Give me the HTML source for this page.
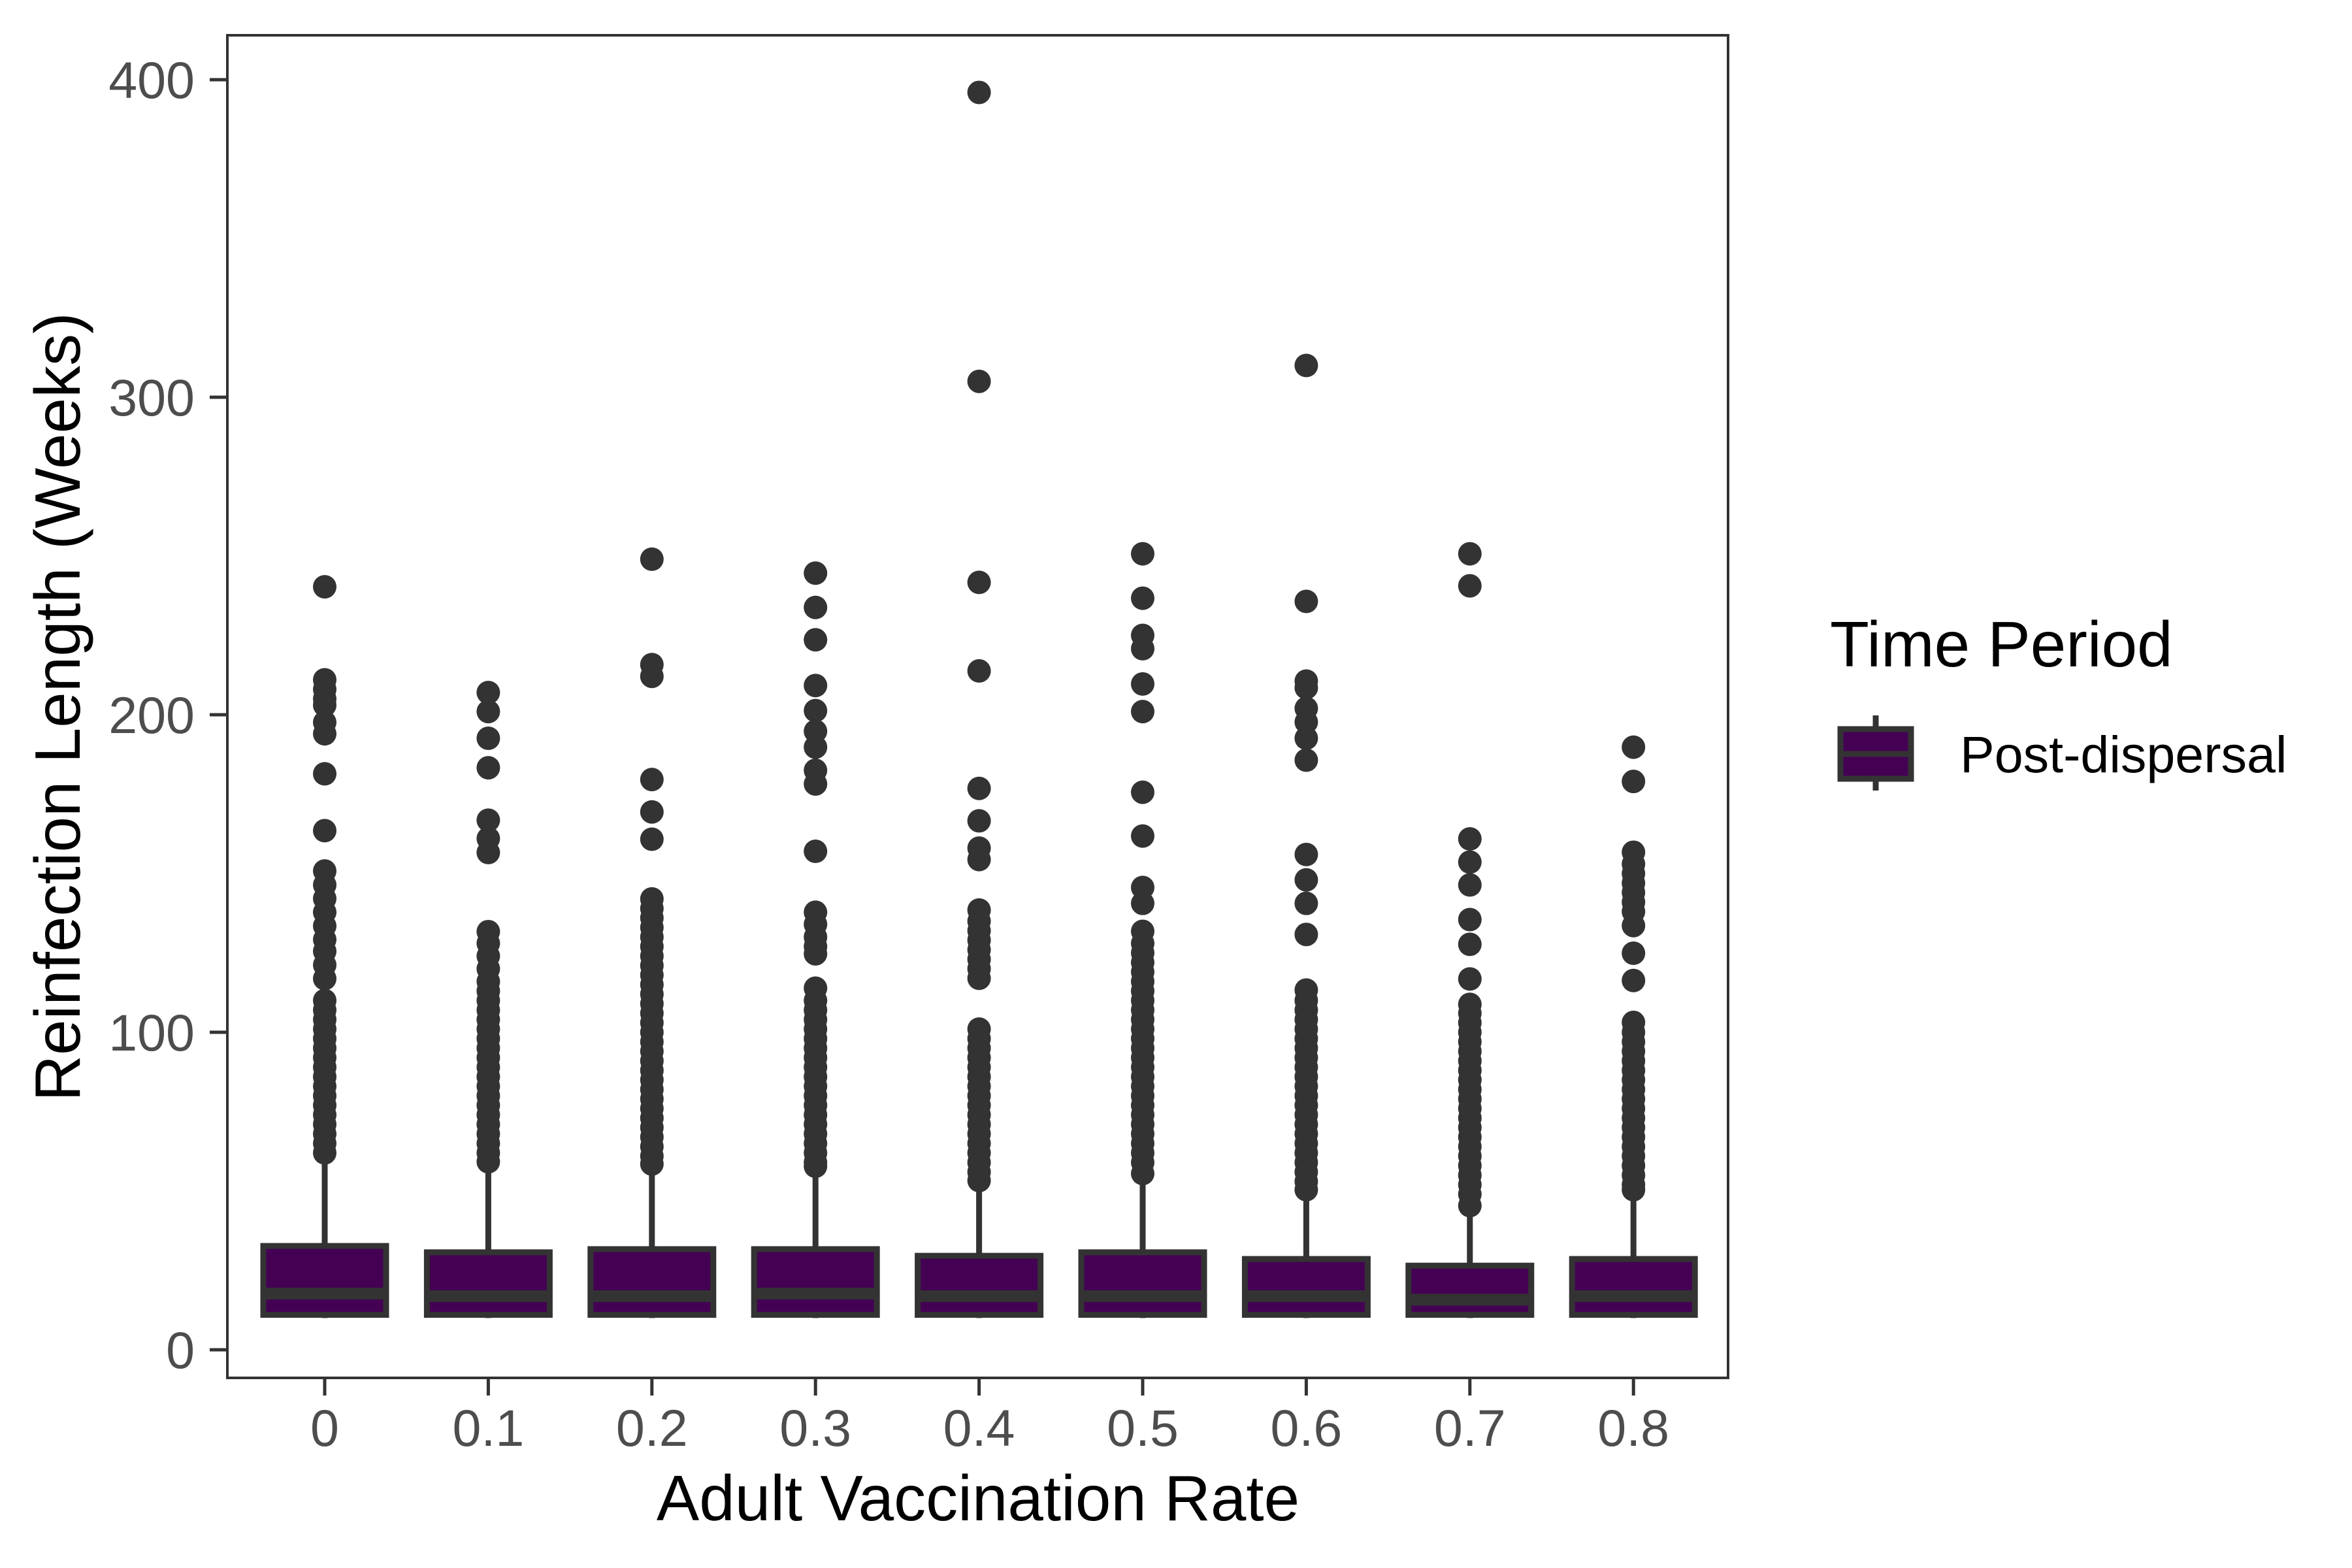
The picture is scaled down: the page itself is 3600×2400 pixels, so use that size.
<!DOCTYPE html>
<html><head><meta charset="utf-8"><style>
html,body{margin:0;padding:0;background:#fff;width:3600px;height:2400px;overflow:hidden}
svg{display:block;font-family:"Liberation Sans",Arial,sans-serif}
</style></head><body>
<svg id="chart" width="3600" height="2400" viewBox="0 0 3600 2400">
<rect x="0" y="0" width="3600" height="2400" fill="#fff"/>
<g id="marks"></g>
<g id="axes"></g>
<rect x="348" y="54" width="2297" height="2055" fill="none" stroke="#333" stroke-width="4"/>
<text x="1497" y="2327" font-size="98" text-anchor="middle" fill="#000">Adult Vaccination Rate</text>
<text transform="translate(122,1082) rotate(-90)" font-size="98" text-anchor="middle" fill="#000">Reinfection Length (Weeks)</text>
<g>
<text x="2801" y="1020" font-size="98" fill="#000">Time Period</text>
<g>
<line x1="2871" y1="1095" x2="2871" y2="1210" stroke="#333" stroke-width="9"/>
<rect x="2817" y="1116" width="108" height="76" fill="#440154" stroke="#333" stroke-width="9"/>
<line x1="2817" y1="1154" x2="2925" y2="1154" stroke="#333" stroke-width="9"/>
<text x="3000" y="1182" font-size="79" fill="#000">Post-dispersal</text>
</g></g>
</svg>
<script>
const categories = ["0","0.1","0.2","0.3","0.4","0.5","0.6","0.7","0.8"];
const q1 = [11,11,11,11,11,11,11,11,11];
const medians = [17.7,16.9,16.9,17.7,16.9,16.9,16.9,15.8,16.9];
const q3 = [32.7,30.7,31.7,31.7,29.6,30.7,28.6,26.5,28.6];
const whiskerLow = [10,10,10,10,10,10,10,10,10];
const whiskerHigh = [60,57,56.5,55.8,51.5,53.5,48.5,43.5,48.5];
const yTicks = [0,100,200,300,400];
const outliers0 = [240.3,211,208,205,203,197.6,194,181.4,163.5,150.8,146.4,142.1,137.8,133.5,129.2,125.5,121.2,116.9,110,107,104,101,98,95,92,89,86,83,80,77,74,71,68,65,62];
const outliers1 = [207,201,192.6,183.3,166.8,161,156.6,131.7,128,124,120,116,113,110,107,104,101,98,95,92,89,86,83,80,77,74,71,68,65,62,59.2];
const outliers2 = [249,215.8,212.1,179.6,169.4,160.8,142,139,136,133,130,127,124,121,118,115,112,109,106,103,100,97,94,91,88,85,82,79,76,73,70,67,64,61,58.5];
const outliers3 = [244.6,233.8,223.6,209.2,201.3,194.8,189.8,182.5,178.2,157,137.8,134,130,127,124.7,113.9,110,107,104,101,98,95,92,89,86,83,80,77,74,71,68,65,62,59,57.8];
const outliers4 = [396,305,241.7,213.8,176.8,166.6,158,154.4,138.5,135,132,129,126,123,120,117,101,98,95,92,89,86,83,80,77,74,71,68,65,62,59,56,53.3];
const outliers5 = [250.7,236.7,225,220.8,209.7,201,175.6,161.8,145.6,140.6,131.8,128,125,122,119,116,113,110,107,104,101,98,95,92,89,86,83,80,77,74,71,68,65,62,59,55.5];
const outliers6 = [310,235.7,210.6,208.5,202,197.7,192.6,185.7,156,148,140.6,130.8,113.3,110,107,104,101,98,95,92,89,86,83,80,77,74,71,68,65,62,59,56,53,50.4];
const outliers7 = [250.7,240.6,160.9,153.6,146.4,135.5,127.7,116.8,108.8,106,103,100,97,94,91,88,85,82,79,76,73,70,67,64,61,58,55,52,49,45.4];
const outliers8 = [189.8,179,156.7,153,150,147,144,141,138,133.6,124.9,116.3,103.1,100,97,94,91,88,85,82,79,76,73,70,67,64,61,58,55,52,50.4];
const outlierSets = [outliers0,outliers1,outliers2,outliers3,outliers4,outliers5,outliers6,outliers7,outliers8];

const NS = "http://www.w3.org/2000/svg";
const y0px = 2066, pxPer = 4.86;
function yScale(v){ return y0px - v*pxPer; }
function xScale(i){ return 497 + i*250.4; }
const boxW = 197;
const marks = document.getElementById('marks');
const axes = document.getElementById('axes');
function mk(tag, attrs, parent){
  const e = document.createElementNS(NS, tag);
  for (const k in attrs) e.setAttribute(k, attrs[k]);
  parent.appendChild(e);
  return e;
}
categories.forEach((c,i)=>{
  const cx = xScale(i);
  const g = mk('g', {}, marks);
  
  
  const wl = mk('line', {x1:cx, x2:cx, y1:yScale(whiskerHigh[i]), y2:yScale(q3[i]), stroke:'#333', 'stroke-width':9}, g);
  
  
  const wl2 = mk('line', {x1:cx, x2:cx, y1:yScale(q1[i]), y2:yScale(whiskerLow[i]), stroke:'#333', 'stroke-width':9}, g);
  
  
  const r = mk('rect', {x:cx-boxW/2+4.5, y:yScale(q3[i]), width:boxW-9, height:yScale(q1[i])-yScale(q3[i]), fill:'#440154', stroke:'#333', 'stroke-width':9}, g);
  
  
  const m = mk('line', {x1:cx-boxW/2+4.5, x2:cx+boxW/2-4.5, y1:yScale(medians[i]), y2:yScale(medians[i]), stroke:'#333', 'stroke-width':18}, g);
  
  
  outlierSets[i].forEach(v=>{
    const d = mk('circle', {cx:cx, cy:yScale(v), r:18, fill:'#333'}, g);
    
    
  });
  const t = mk('line', {x1:cx, x2:cx, y1:2109, y2:2136, stroke:'#333', 'stroke-width':5}, axes);
  
  
  const tl = mk('text', {x:cx, y:2213, 'font-size':79, 'text-anchor':'middle', fill:'#4d4d4d'}, axes);
  tl.textContent = c;
  
  
});
yTicks.forEach(v=>{
  const y = yScale(v);
  const t = mk('line', {x1:321, x2:348, y1:y, y2:y, stroke:'#333', 'stroke-width':5}, axes);
  
  
  const tl = mk('text', {x:298, y:y+28, 'font-size':79, 'text-anchor':'end', fill:'#4d4d4d'}, axes);
  tl.textContent = String(v);
  
  
});
</script>
</body></html>
